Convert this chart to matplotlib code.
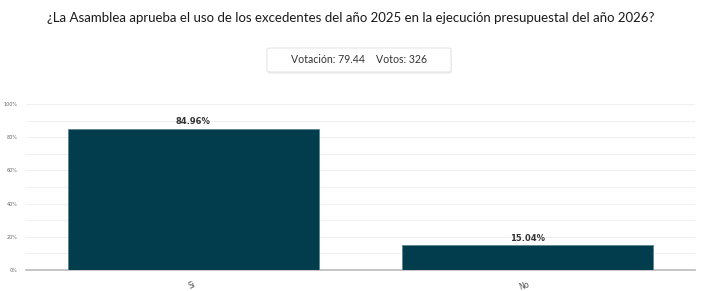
import matplotlib.pyplot as plt
from matplotlib.patches import FancyBboxPatch

# datos
categorias = ["Si", "No"]
porcentajes = [84.96, 15.04]
etiquetas = ["84.96%", "15.04%"]
y_ticks = [0, 20, 40, 60, 80, 100]
y_labels = ["0%", "20%", "40%", "60%", "80%", "100%"]

titulo = "¿La Asamblea aprueba el uso de los excedentes del año 2025 en la ejecución presupuestal del año 2026?"
resumen = "Votación: 79.44    Votos: 326"

W, H = 701, 291
fig = plt.figure(figsize=(W / 100, H / 100), dpi=100)
fig.patch.set_facecolor("white")

# titulo
fig.text(0.5, 1 - 18 / H, titulo, ha="center", va="center", fontsize=9.5,
         family=["Lato", "DejaVu Sans"], color="#1a1a1a")

# caja de resumen con sombra suave
bx0, bx1 = 267 / W, 451 / W
by0, by1 = 1 - 72 / H, 1 - 48 / H
shadow = FancyBboxPatch((bx0 + 0.001, by0 - 0.006), bx1 - bx0, by1 - by0,
                        boxstyle="round,pad=0,rounding_size=0.005",
                        transform=fig.transFigure, facecolor="#ececec",
                        edgecolor="none", zorder=0)
box = FancyBboxPatch((bx0, by0), bx1 - bx0, by1 - by0,
                     boxstyle="round,pad=0,rounding_size=0.005",
                     transform=fig.transFigure, facecolor="white",
                     edgecolor="#e6e6e6", linewidth=0.8, zorder=1)
fig.patches.extend([shadow, box])
fig.text((bx0 + bx1) / 2, (by0 + by1) / 2, resumen, ha="center", va="center",
         fontsize=7.6, family=["Lato", "DejaVu Sans"], color="#333333", zorder=2)

# grafico de barras
ax = fig.add_axes([26 / W, 1 - 270 / H, 669 / W, 166 / H])
x = range(len(categorias))
ax.bar(x, porcentajes, width=0.75, color="#023d4d", edgecolor="#5f8590",
       linewidth=0.6, zorder=3)
for xi, v, lab in zip(x, porcentajes, etiquetas):
    ax.text(xi, v + 1.5, lab, ha="center", va="bottom", fontsize=6,
            fontweight="bold", color="#333333", zorder=4)

ax.set_xlim(-0.5, 1.5)
ax.set_ylim(0, 100)
ax.set_yticks(y_ticks)
ax.set_yticklabels(y_labels, fontsize=3.5, color="#666666")
ax.set_yticks(range(10, 100, 20), minor=True)
ax.set_xticks(list(x))
ax.set_xticklabels(categorias, fontsize=5.5, color="#555555", rotation=20,
                   ha="right", rotation_mode="anchor")
ax.tick_params(axis="both", which="both", length=0, pad=6)
ax.tick_params(axis="x", pad=7)
ax.grid(axis="y", which="both", color="#f0f0f0", linewidth=0.8, zorder=0)
for s in ["top", "right", "left"]:
    ax.spines[s].set_visible(False)
ax.spines["bottom"].set_color("#bbbbbb")
ax.spines["bottom"].set_linewidth(1.2)
ax.set_axisbelow(True)

fig.savefig("out.png", dpi=100)
